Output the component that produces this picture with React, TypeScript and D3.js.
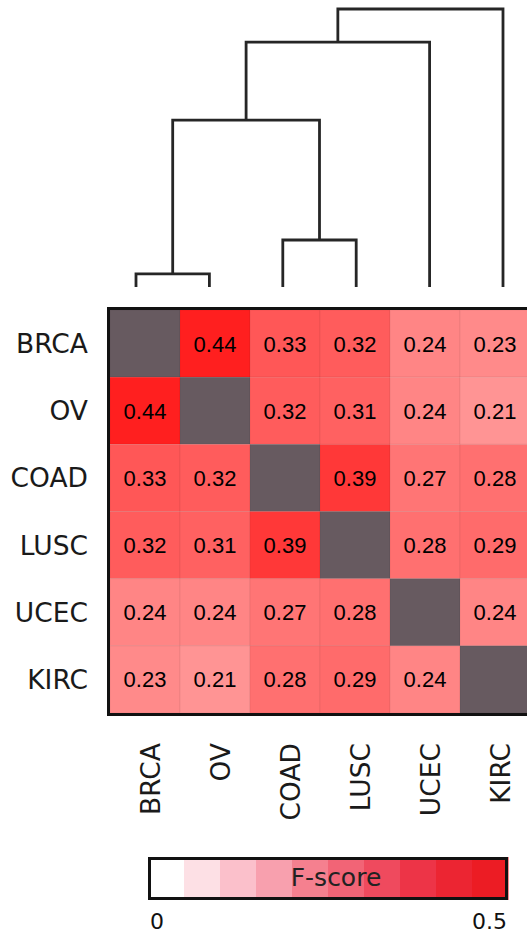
import * as d3 from 'd3';

const cancers = ['BRCA', 'OV', 'COAD', 'LUSC', 'UCEC', 'KIRC'];

// pairwise F-score, null on the diagonal
const fscores: (number | null)[][] = [
    [null, 0.44, 0.33, 0.32, 0.24, 0.23],
    [0.44, null, 0.32, 0.31, 0.24, 0.21],
    [0.33, 0.32, null, 0.39, 0.27, 0.28],
    [0.32, 0.31, 0.39, null, 0.28, 0.29],
    [0.24, 0.24, 0.27, 0.28, null, 0.24],
    [0.23, 0.21, 0.28, 0.29, 0.24, null],
];

// linkage tree: [left, right, height]
type Node = string | [Node, Node, number];
const tree: Node = [[[['BRCA', 'OV', 0.047], ['COAD', 'LUSC', 0.169], 0.6], 'UCEC', 0.881], 'KIRC', 1.0];

const legendColors = ['#ffffff', '#fde0e5', '#fbc0cb', '#f8a0ae', '#f5808f', '#f26476', '#ef4a5e', '#ed3447', '#ec2532', '#ec1c24'];
const legendTicks = [0, 0.5];

const W = 527;
const H = 935;
const font = 'DejaVu Sans, sans-serif';
const numFont = 'Liberation Sans, Arial, sans-serif';

export default function App() {
    const x = d3.scaleBand().domain(cancers).range([110, 530]);
    const y = d3.scaleBand().domain(cancers).range([310, 713]);
    const color = d3.scaleLinear<string>().domain([0, 0.5]).range(['#ffffff', '#ff0000']);

    // dendrogram scales
    const leafX = d3.scalePoint().domain(cancers).range([136, 503]);
    const hY = d3.scaleLinear().domain([0, 1]).range([287, 9]);

    const segs: string[] = [];
    const walk = (n: Node): [number, number] => {
        if (typeof n === 'string') return [leafX(n)!, hY(0)];
        const [a, b, h] = n;
        const [ax, ay] = walk(a);
        const [bx, by] = walk(b);
        const ny = hY(h);
        segs.push(`M${ax},${ay}V${ny}H${bx}V${by}`);
        return [(ax + bx) / 2, ny];
    };
    walk(tree);

    const legendX = d3.scaleBand<number>().domain(d3.range(legendColors.length)).range([148, 508]);
    const tickX = d3.scaleLinear().domain([0, 0.5]).range([150, 507]);

    return (
        <svg width={W} height={H} style={{ position: 'absolute', left: 0, top: 0, background: '#fff' }}>
            <g fill="none" stroke="#262626" strokeWidth={2.8}>
                {segs.map((d, i) => <path key={i} d={d} />)}
            </g>

            {fscores.map((row, i) =>
                row.map((v, j) => (
                    <g key={`${i}-${j}`}>
                        <rect
                            x={x(cancers[j])}
                            y={y(cancers[i])}
                            width={x.bandwidth()}
                            height={y.bandwidth()}
                            fill={v === null ? '#675a60' : color(v)}
                            stroke="rgba(0,0,0,0.06)"
                            strokeWidth={1}
                        />
                        {v !== null && (
                            <text
                                x={x(cancers[j])! + x.bandwidth() / 2}
                                y={y(cancers[i])! + y.bandwidth() / 2}
                                dy="0.36em"
                                textAnchor="middle"
                                fontFamily={numFont}
                                fontSize={22}
                                fill="#000"
                            >
                                {v.toFixed(2)}
                            </text>
                        )}
                    </g>
                ))
            )}
            <rect x={108.5} y={308.5} width={430} height={406} fill="none" stroke="#111" strokeWidth={3} />

            {cancers.map(c => (
                <text key={'r' + c} x={88} y={y(c)! + y.bandwidth() / 2} dy="0.36em" textAnchor="end"
                    fontFamily={font} fontSize={26.5} fill="#1a1a1a">{c}</text>
            ))}
            {cancers.map(c => (
                <text key={'c' + c} transform={`translate(${x(c)! + x.bandwidth() / 2 + 5},743) rotate(-90)`}
                    dy="0.36em" textAnchor="end" fontFamily={font} fontSize={26.5} fill="#1a1a1a">{c}</text>
            ))}

            {legendColors.map((c, i) => (
                <rect key={'l' + i} x={legendX(i)} y={857} width={legendX.bandwidth() + 0.5} height={43} fill={c} />
            ))}
            <rect x={149.5} y={858.5} width={357} height={40} fill="none" stroke="#111" strokeWidth={3} />
            <text x={336} y={877} dy="0.36em" textAnchor="middle" fontFamily={font} fontSize={25} fill="#222">F-score</text>
            {legendTicks.map((t, i) => (
                <text key={'t' + t} x={tickX(t)} y={929} textAnchor={i === 0 ? 'start' : 'end'}
                    fontFamily={font} fontSize={22} fill="#111">{t}</text>
            ))}
        </svg>
    );
}
